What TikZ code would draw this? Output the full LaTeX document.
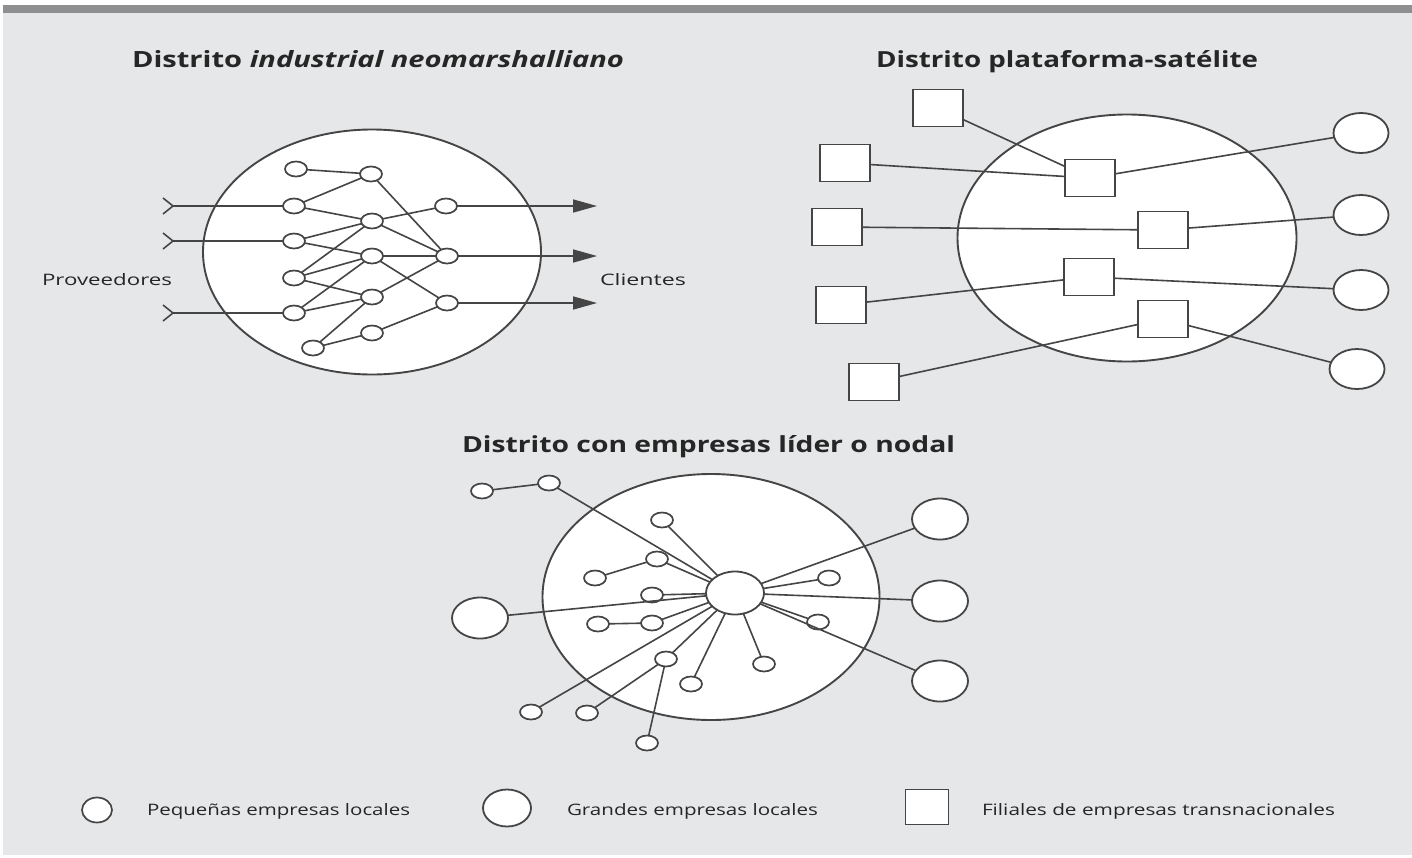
\documentclass[tikz,border=0pt]{standalone}
\usepackage{fontspec}
\setmainfont{Open Sans}
\usetikzlibrary{shapes.geometric,arrows.meta}
\definecolor{bg}{HTML}{E6E7E9}
\definecolor{bar}{HTML}{8E8F91}
\definecolor{ink}{HTML}{454545}
\definecolor{txt}{HTML}{262626}
\newcommand{\fitbox}[3]{\resizebox{#1pt}{#2pt}{#3}}
\begin{document}
\begin{tikzpicture}[x=1pt,y=-1pt,
  every node/.style={inner sep=0pt, outer sep=0pt},
  area/.style={ellipse, draw=ink, fill=white, line width=1.9pt},
  sm/.style={ellipse, draw=ink, fill=white, line width=1.7pt, minimum width=22pt, minimum height=15pt},
  lg/.style={ellipse, draw=ink, fill=white, line width=1.8pt, minimum width=56pt, minimum height=41pt},
  hubnode/.style={ellipse, draw=ink, fill=white, line width=1.8pt, minimum width=58pt, minimum height=43pt},
  sq/.style={rectangle, draw=ink, fill=white, line width=1.9pt, minimum width=50pt, minimum height=37pt},
  link/.style={draw=ink, line width=1.6pt},
  lbl/.style={anchor=base west, text=txt}
]
\useasboundingbox (0,0) rectangle (1412,857);
\fill[white] (0,0) rectangle (1412,857);
\fill[bg] (3,13) rectangle (1412,855);
\fill[bar] (3,5) rectangle (1412,13);

% ---------- titles ----------
\node[lbl] (title1) at (132,67) {\fitbox{492}{17}{\bfseries Distrito \itshape industrial neomarshalliano}};
\node[lbl] (title2) at (876,67) {\fitbox{382}{17}{\bfseries Distrito plataforma-satélite}};
\node[lbl] (title3) at (462,452) {\fitbox{493}{17}{\bfseries Distrito con empresas líder o nodal}};

% ---------- panel 1 ----------
\node[area, minimum width=338pt, minimum height=245pt] (E1) at (372,252) {};
\node[sm] (n1) at (296,169) {};
\node[sm] (n2) at (371,174) {};
\node[sm] (a1) at (294,206) {};
\node[sm] (b1) at (372,221) {};
\node[sm] (c1) at (446,206) {};
\node[sm] (a2) at (294,241) {};
\node[sm] (b2) at (372,256) {};
\node[sm] (c2) at (447,256) {};
\node[sm] (a3) at (294,278) {};
\node[sm] (b3) at (372,297) {};
\node[sm] (c3) at (447,303) {};
\node[sm] (a4) at (294,313) {};
\node[sm] (b4) at (372,333) {};
\node[sm] (a5) at (313,348) {};

\foreach \u/\v in {n1/n2,a1/n2,n2/c2,a1/b1,b1/c1,b1/c2,a2/b1,a2/b2,a3/b1,a3/b2,a3/b3,a4/b2,a4/b3,a5/b3,a5/b4,b2/c2,b2/c3,b3/c2,b4/c3}
  \draw[link] (\u) -- (\v);

\coordinate (in1) at (173,206);
\coordinate (in2) at (173,241);
\coordinate (in3) at (173,313);
\foreach \i/\t in {in1/a1,in2/a2,in3/a4}{
  \draw[link] ([shift={(-10,-8)}]\i) -- (\i) -- ([shift={(-10,8)}]\i);
  \draw[link] (\i) -- (\t);
}
\coordinate (out1) at (597,206);
\coordinate (out2) at (597,256);
\coordinate (out3) at (597,303);
\foreach \s/\o in {c1/out1,c2/out2,c3/out3}
  \draw[link, -{Triangle[length=24pt,width=13pt]}] (\s) -- (\o);

\node[lbl] (prov) at (42,285) {\fitbox{130}{12}{Proveedores}};
\node[lbl] (cli) at (600,285) {\fitbox{86}{12}{Clientes}};

% ---------- panel 2 ----------
\node[area, minimum width=339pt, minimum height=247pt] (E2) at (1127,238) {};
\node[sq] (s1) at (938,108) {};
\node[sq] (s2) at (845,163) {};
\node[sq] (s3) at (837,227) {};
\node[sq] (s4) at (841,305) {};
\node[sq] (s5) at (874,382) {};
\node[sq] (t1) at (1090,178) {};
\node[sq] (t2) at (1163,230) {};
\node[sq] (t3) at (1089,277) {};
\node[sq] (t4) at (1163,319) {};
\node[lg, minimum width=55pt, minimum height=40pt] (r1) at (1361,133) {};
\node[lg, minimum width=55pt, minimum height=40pt] (r2) at (1361,215) {};
\node[lg, minimum width=55pt, minimum height=40pt] (r3) at (1361,290) {};
\node[lg, minimum width=55pt, minimum height=40pt] (r4) at (1357,369) {};
\foreach \u/\v in {s1/t1,s2/t1,s3/t2,s4/t3,s5/t4,t1/r1,t2/r2,t3/r3,t4/r4}
  \draw[link] (\u) -- (\v);

% ---------- panel 3 ----------
\node[area, minimum width=337pt, minimum height=246pt] (E3) at (711,597) {};
\node[hubnode] (hub) at (735,593) {};
\node[lg] (L) at (480,618) {};
\node[lg] (R1) at (940,519) {};
\node[lg] (R2) at (940,601) {};
\node[lg] (R3) at (940,681) {};
\node[sm] (o1) at (482,491) {};
\node[sm] (o2) at (549,483) {};
\node[sm] (p1) at (662,520) {};
\node[sm] (p2) at (657,559) {};
\node[sm] (p3) at (595,578) {};
\node[sm] (p4) at (652,595) {};
\node[sm] (p5) at (652,623) {};
\node[sm] (p6) at (598,624) {};
\node[sm] (q1) at (829,578) {};
\node[sm] (q2) at (818,622) {};
\node[sm] (u1) at (666,659) {};
\node[sm] (u2) at (587,713) {};
\node[sm] (u3) at (647,743) {};
\node[sm] (u4) at (531,712) {};
\node[sm] (u5) at (691,684) {};
\node[sm] (u6) at (764,664) {};
\foreach \u/\v in {o1/o2,o2/hub,p1/hub,p2/hub,p3/p2,p4/hub,p5/hub,p6/p5,L/hub,q1/hub,q2/hub,u1/hub,u2/u1,u3/u1,u4/hub,u5/hub,u6/hub,R1/hub,R2/hub,R3/hub}
  \draw[link] (\u) -- (\v);

% ---------- legend ----------
\node[sm, minimum width=30pt, minimum height=25pt] (leg1) at (97,810) {};
\node[lbl] (legt1) at (147,815) {\fitbox{263}{12}{Pequeñas empresas locales}};
\node[lg, minimum width=48pt, minimum height=37pt] (leg2) at (507,808) {};
\node[lbl] (legt2) at (567,815) {\fitbox{251}{12}{Grandes empresas locales}};
\node[sq, minimum width=43pt, minimum height=35pt] (leg3) at (927,807) {};
\node[lbl] (legt3) at (982,815) {\fitbox{353}{12}{Filiales de empresas transnacionales}};
\end{tikzpicture}
\end{document}
